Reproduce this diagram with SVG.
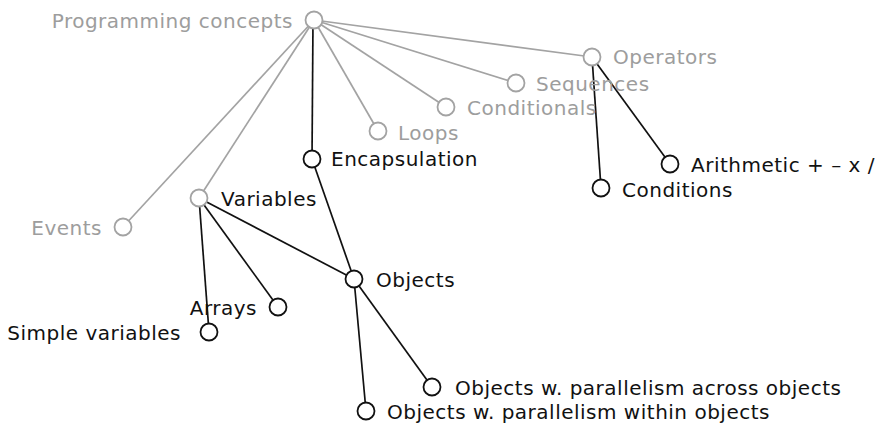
<svg xmlns="http://www.w3.org/2000/svg" width="882" height="427" viewBox="0 0 882 427">
<style>
.g{stroke:#a3a3a3}
.b{stroke:#111}
line{stroke-width:1.7}
circle{fill:#fff;stroke-width:1.8;r:8.5}
text{font-family:"DejaVu Sans",Verdana,sans-serif;font-size:20px;letter-spacing:0.5px}
.tg{fill:#9d9d9d}
.tb{fill:#111}
</style>
<rect width="882" height="427" fill="#fff"/>
<g id="connectors">
<line class="g" x1="314" y1="20" x2="592" y2="57"/>
<line class="g" x1="314" y1="20" x2="516" y2="83"/>
<line class="g" x1="314" y1="20" x2="446" y2="107"/>
<line class="g" x1="314" y1="20" x2="378" y2="131"/>
<line class="g" x1="314" y1="20" x2="123" y2="227"/>
<line class="g" x1="314" y1="20" x2="199" y2="198"/>
<line class="b" x1="313" y1="20" x2="312" y2="159"/>
<line class="b" x1="592" y1="57" x2="601" y2="188"/>
<line class="b" x1="592" y1="57" x2="670" y2="164"/>
<line class="b" x1="312" y1="159" x2="354" y2="279"/>
<line class="b" x1="199" y1="198" x2="354" y2="279"/>
<line class="b" x1="199" y1="198" x2="278" y2="307"/>
<line class="b" x1="199" y1="198" x2="209" y2="332"/>
<line class="b" x1="354" y1="279" x2="432" y2="387"/>
<line class="b" x1="354" y1="279" x2="366" y2="411"/>
</g>
<g id="programming-concepts"><circle class="g" cx="314" cy="20"/><text class="tg" x="293" y="28" text-anchor="end">Programming concepts</text></g>
<g id="operators"><circle class="g" cx="592" cy="57"/><text class="tg" x="613" y="64">Operators</text></g>
<g id="sequences"><circle class="g" cx="516" cy="83"/><text class="tg" x="536" y="91">Sequences</text></g>
<g id="conditionals"><circle class="g" cx="446" cy="107"/><text class="tg" x="467" y="115">Conditionals</text></g>
<g id="loops"><circle class="g" cx="378" cy="131"/><text class="tg" x="398" y="140">Loops</text></g>
<g id="encapsulation"><circle class="b" cx="312" cy="159"/><text class="tb" x="331" y="166">Encapsulation</text></g>
<g id="arithmetic"><circle class="b" cx="670" cy="164"/><text class="tb" x="691" y="172">Arithmetic + – x /</text></g>
<g id="conditions"><circle class="b" cx="601" cy="188"/><text class="tb" x="622" y="197">Conditions</text></g>
<g id="variables"><circle class="g" cx="199" cy="198"/><text class="tb" x="221" y="206">Variables</text></g>
<g id="events"><circle class="g" cx="123" cy="227"/><text class="tg" x="102" y="235" text-anchor="end">Events</text></g>
<g id="objects"><circle class="b" cx="354" cy="279"/><text class="tb" x="376" y="287">Objects</text></g>
<g id="arrays"><circle class="b" cx="278" cy="307"/><text class="tb" x="257" y="315" text-anchor="end">Arrays</text></g>
<g id="simple-variables"><circle class="b" cx="209" cy="332"/><text class="tb" x="181" y="340" text-anchor="end">Simple variables</text></g>
<g id="objects-across"><circle class="b" cx="432" cy="387"/><text class="tb" x="455" y="395">Objects w. parallelism across objects</text></g>
<g id="objects-within"><circle class="b" cx="366" cy="411"/><text class="tb" x="387" y="419">Objects w. parallelism within objects</text></g>
</svg>
